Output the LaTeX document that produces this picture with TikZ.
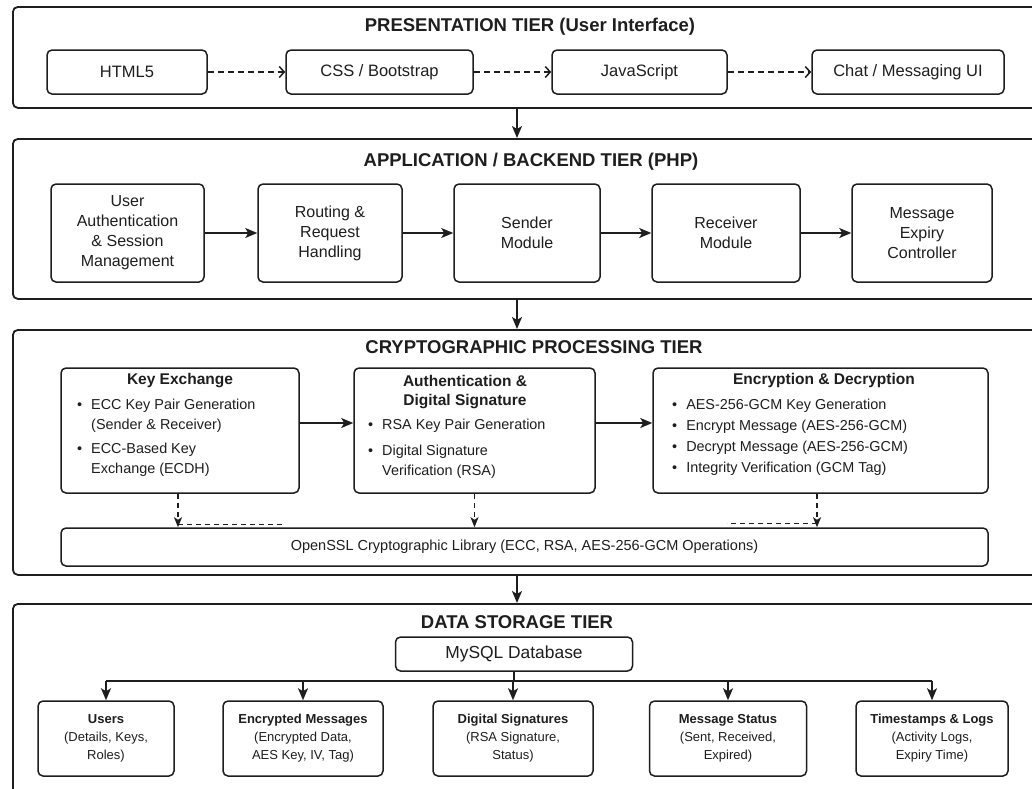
\documentclass[tikz,border=0pt]{standalone}
\usepackage{fontspec}
\setmainfont{Liberation Sans}
\usetikzlibrary{arrows.meta,positioning,calc}

\definecolor{ink}{HTML}{1E1E1E}

\tikzset{
  tier/.style={draw, line width=1.8pt, rounded corners=5pt, anchor=north west,
    minimum width=1040pt, inner sep=0pt},
  tiertitle/.style={font=\fontsize{18.5}{22}\selectfont\bfseries, inner sep=0pt},
  box/.style={draw, line width=1.5pt, rounded corners=5pt, align=center, inner sep=2pt},
  pbox/.style={box, minimum height=44pt, font=\fontsize{16.5}{20}\selectfont},
  abox/.style={box, minimum height=98pt, font=\fontsize{16}{20}\selectfont},
  cbox/.style={box, minimum height=125pt},
  sbox/.style={box, minimum height=75pt, font=\fontsize{13}{18}\selectfont},
  chead/.style={font=\fontsize{15.5}{19}\selectfont\bfseries, align=center, inner sep=0pt},
  clist/.style={font=\fontsize{14.4}{20}\selectfont, inner sep=0pt, anchor=base west},
  flow/.style={line width=1.6pt, -{Stealth[length=12pt,width=10pt,inset=3pt]}},
  dflow/.style={line width=1.5pt, dash pattern=on 6pt off 4pt, -{Straight Barb[length=5pt,width=11pt]}},
  dlink/.style={line width=1.5pt, dash pattern=on 5pt off 4pt, -{Stealth[length=10pt,width=8pt,inset=2.5pt]}},
  dstub/.style={line width=1.5pt, dash pattern=on 5pt off 4pt},
  bus/.style={line width=1.6pt}
}

\begin{document}
\begin{tikzpicture}[x=1pt,y=-1pt,color=ink]
\useasboundingbox[fill=white] (0,0) rectangle (1032,788);
\clip (0,0) rectangle (1032,788);
\coordinate (spine) at (517,0);
\coordinate (bus) at (0,681);

\node[tier, minimum height=101pt] (tier1) at (12,6) {};
\node[tier, minimum height=160pt] (tier2) at (12,138) {};
\node[tier, minimum height=245pt] (tier3) at (12,329) {};
\node[tier, minimum height=200pt] (tier4) at (12,603) {};

\node[tiertitle] (title1) at (530,27) {PRESENTATION TIER (User Interface)};
\node[tiertitle] (title2) at (531,162) {APPLICATION / BACKEND TIER (PHP)};
\node[tiertitle] (title3) at (534,347) {CRYPTOGRAPHIC PROCESSING TIER};
\node[tiertitle] (title4) at (517,622) {DATA STORAGE TIER};

\node[pbox, minimum width=160pt] (html) at (127,72) {HTML5};
\node[pbox, minimum width=187pt] (css) at (379.5,72) {CSS / Bootstrap};
\node[pbox, minimum width=175pt] (js) at (639.5,72) {JavaScript};
\node[pbox, minimum width=192pt] (chat) at (908,72) {Chat / Messaging UI};
\draw[dflow] (html) -- (css);
\draw[dflow] (css) -- (js);
\draw[dflow] (js) -- (chat);

\node[abox, minimum width=153pt] (login) at (127.5,233) {User\\Authentication\\\& Session\\Management};
\node[abox, minimum width=144pt] (routing) at (330,233) {Routing \&\\Request\\Handling};
\node[abox, minimum width=146pt] (sender) at (527,233) {Sender\\Module};
\node[abox, minimum width=148pt] (receiver) at (726,233) {Receiver\\Module};
\node[abox, minimum width=140pt] (expiry) at (922,233) {Message\\Expiry\\Controller};
\draw[flow] (login) -- (routing);
\draw[flow] (routing) -- (sender);
\draw[flow] (sender) -- (receiver);
\draw[flow] (receiver) -- (expiry);

\node[cbox, minimum width=238pt] (kex) at (180,430.5) {};
\node[cbox, minimum width=241pt] (sig) at (474.5,430.5) {};
\node[cbox, minimum width=335pt] (enc) at (820.5,430.5) {};
\node[box, minimum width=927pt, minimum height=38pt, font=\fontsize{14.5}{18}\selectfont] (ossl) at (524.5,547)
  {OpenSSL Cryptographic Library (ECC, RSA, AES-256-GCM Operations)};

\node[chead, anchor=base] (kexhead) at (180,384) {Key Exchange};
\node[clist] (kexlist) at (77,409) {\begin{tabular}[t]{@{}l@{\hspace{9pt}}l@{}}
  \textbullet & ECC Key Pair Generation\\
              & (Sender \& Receiver)\\[4pt]
  \textbullet & ECC-Based Key\\
              & Exchange (ECDH)
\end{tabular}};

\node[chead] (sighead) at (465,392.5) {Authentication \&\\Digital Signature};
\node[clist] (siglist) at (368,429) {\begin{tabular}[t]{@{}l@{\hspace{9pt}}l@{}}
  \textbullet & RSA Key Pair Generation\\[6pt]
  \textbullet & Digital Signature\\
              & Verification (RSA)
\end{tabular}};

\node[chead, anchor=base] (enchead) at (824,384) {Encryption \& Decryption};
\node[clist] (enclist) at (672,409) {\begin{tabular}[t]{@{}l@{\hspace{9pt}}l@{}}
  \textbullet & AES-256-GCM Key Generation\\[1pt]
  \textbullet & Encrypt Message (AES-256-GCM)\\[1pt]
  \textbullet & Decrypt Message (AES-256-GCM)\\[1pt]
  \textbullet & Integrity Verification (GCM Tag)
\end{tabular}};

\draw[flow] ([yshift=7.5pt]kex.east) -- ([yshift=7.5pt]sig.west);
\draw[flow] ([yshift=7.5pt]sig.east) -- ([yshift=7.5pt]enc.west);
\draw[dlink] ([xshift=-2pt]kex.south) -- ([xshift=-2pt]kex.south |- ossl.north);
\draw[dstub] ([xshift=-2pt,yshift=3pt]kex.south |- ossl.north) -- ++(107,0);
\draw[dlink] (sig.south) -- (sig.south |- ossl.north);
\draw[dlink] ([xshift=-3.5pt]enc.south) -- ([xshift=-3.5pt]enc.south |- ossl.north);
\draw[dstub] ([xshift=-3.5pt,yshift=4pt]enc.south |- ossl.north) -- ++(-90,0);

\node[box, minimum width=237pt, minimum height=34pt, font=\fontsize{17.4}{20}\selectfont] (mysql) at (514,654) {MySQL Database};
\node[sbox, minimum width=136pt] (users) at (106,738.5) {\textbf{Users}\\(Details, Keys,\\Roles)};
\node[sbox, minimum width=160pt] (encmsg) at (303,738.5) {\textbf{Encrypted Messages}\\(Encrypted Data,\\AES Key, IV, Tag)};
\node[sbox, minimum width=160pt] (digsig) at (513,738.5) {\textbf{Digital Signatures}\\(RSA Signature,\\Status)};
\node[sbox, minimum width=157pt] (status) at (728,738.5) {\textbf{Message Status}\\(Sent, Received,\\Expired)};
\node[sbox, minimum width=152pt] (logs) at (932,738.5) {\textbf{Timestamps \& Logs}\\(Activity Logs,\\Expiry Time)};
\draw[bus] (mysql.south) -- (mysql.south |- bus);
\draw[bus] (users.north |- bus) -- (logs.north |- bus);
\foreach \t in {users,encmsg,digsig,status,logs}
  \draw[flow] (\t.north |- bus) -- (\t.north);

\draw[flow] (tier1.south -| spine) -- (tier2.north -| spine);
\draw[flow] (tier2.south -| spine) -- (tier3.north -| spine);
\draw[flow] (tier3.south -| spine) -- (tier4.north -| spine);
\end{tikzpicture}
\end{document}
